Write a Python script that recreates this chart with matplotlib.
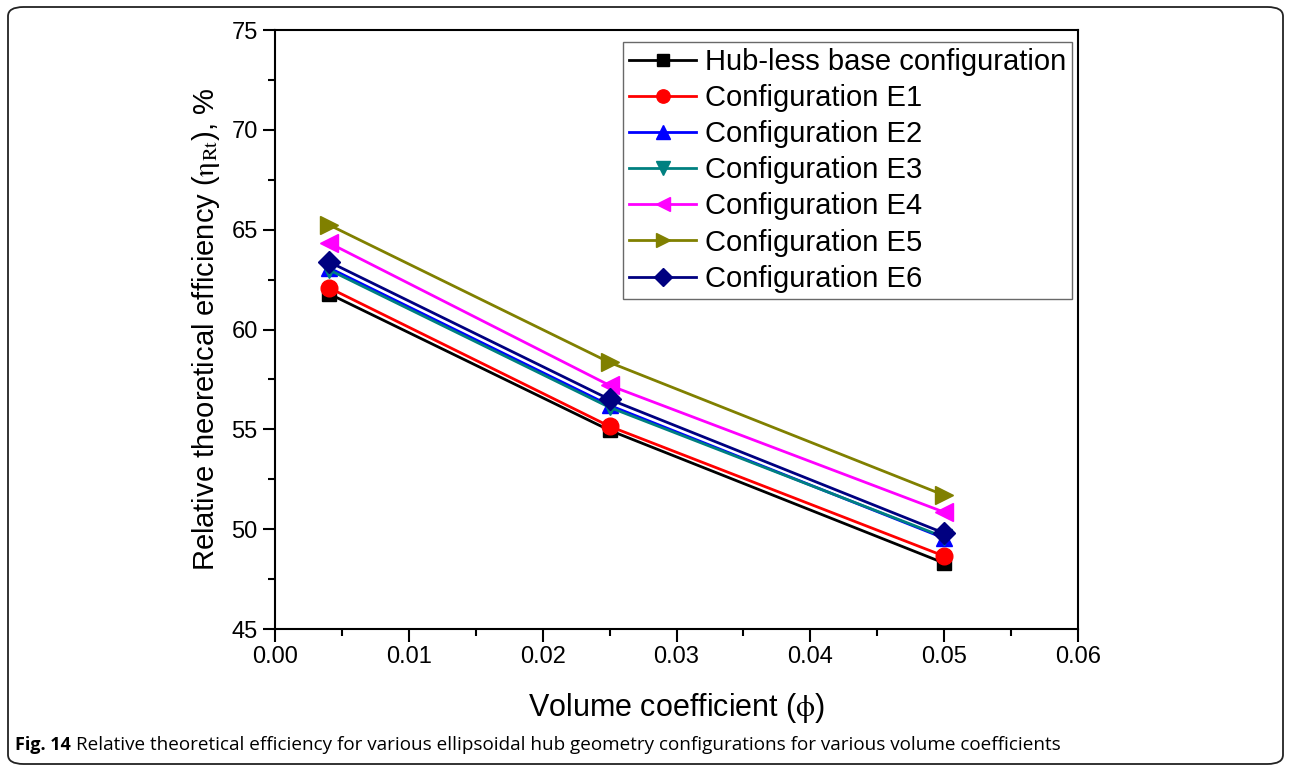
import matplotlib
matplotlib.use("Agg")
import matplotlib.pyplot as plt
from matplotlib.patches import FancyBboxPatch
from matplotlib.ticker import MultipleLocator

plt.rcParams['font.family'] = ['Liberation Sans', 'DejaVu Sans']
plt.rcParams['mathtext.fontset'] = 'stix'

# data
phi = [0.004, 0.025, 0.05]
hubless = [61.8, 54.95, 48.3]
e1 = [62.1, 55.15, 48.65]
e2 = [63.1, 56.2, 49.55]
e3 = [63.0, 56.1, 49.6]
e4 = [64.35, 57.2, 50.85]
e5 = [65.25, 58.35, 51.7]
e6 = [63.4, 56.5, 49.8]

labels = ["Hub-less base configuration", "Configuration E1", "Configuration E2",
          "Configuration E3", "Configuration E4", "Configuration E5", "Configuration E6"]
series = [hubless, e1, e2, e3, e4, e5, e6]
colors = ["#000000", "#ff0000", "#0000ff", "#008080", "#ff00ff", "#808000", "#000080"]
markers = ["s", "o", "^", "v", "<", ">", "D"]
msizes = [10, 12, 12, 12, 13, 13, 11]

W, H = 1290, 769
fig = plt.figure(figsize=(W / 100, H / 100), dpi=100)

# rounded outer frame
frame = FancyBboxPatch((8 / W, 5 / H), 1275 / W, 757 / H,
                       boxstyle="round,pad=0,rounding_size=0.012",
                       transform=fig.transFigure, fill=False, lw=1.3, ec="#222222")
fig.patches.append(frame)

ax = fig.add_axes([275 / W, 1 - 629 / H, (1078 - 275) / W, (629 - 30) / H])

for ys, lab, c, m, ms in zip(series, labels, colors, markers, msizes):
    ax.plot(phi, ys, color=c, marker=m, markersize=ms, lw=2, label=lab)

ax.set_xlim(0, 0.06)
ax.set_ylim(45, 75)
ax.xaxis.set_minor_locator(MultipleLocator(0.005))
ax.yaxis.set_major_locator(MultipleLocator(5))
ax.yaxis.set_minor_locator(MultipleLocator(2.5))
ax.set_xticks([0, 0.01, 0.02, 0.03, 0.04, 0.05, 0.06])
ax.set_xticklabels(["0.00", "0.01", "0.02", "0.03", "0.04", "0.05", "0.06"])
ax.tick_params(which="major", direction="out", length=9, width=1.5, labelsize=17)
ax.tick_params(which="minor", direction="out", length=5, width=1.5)
for s in ax.spines.values():
    s.set_linewidth(1.5)

ax.set_xlabel(r"Volume coefficient ($\mathrm{\phi}$)", fontsize=22, labelpad=16)
ax.set_ylabel(r"Relative theoretical efficiency ($\mathrm{\eta_{Rt}}$), %", fontsize=21, labelpad=7)

leg = ax.legend(loc="upper right", bbox_to_anchor=(0.9925, 0.98), fontsize=21,
                frameon=True, fancybox=False, edgecolor="#444444",
                handlelength=2.3, handletextpad=0.3, markerscale=0.8,
                borderpad=0.2, labelspacing=0.28, borderaxespad=0)
leg.get_frame().set_linewidth(1.0)

fig.text(15 / W, 1 - 745 / H, "Fig. 14", fontsize=13, fontweight="bold",
         family=["Open Sans", "DejaVu Sans"], va="center", ha="left")
fig.text(76 / W, 1 - 745 / H,
         "Relative theoretical efficiency for various ellipsoidal hub geometry configurations for various volume coefficients",
         fontsize=13.6, family=["Open Sans", "DejaVu Sans"], va="center", ha="left")

fig.savefig("out.png", dpi=100)
